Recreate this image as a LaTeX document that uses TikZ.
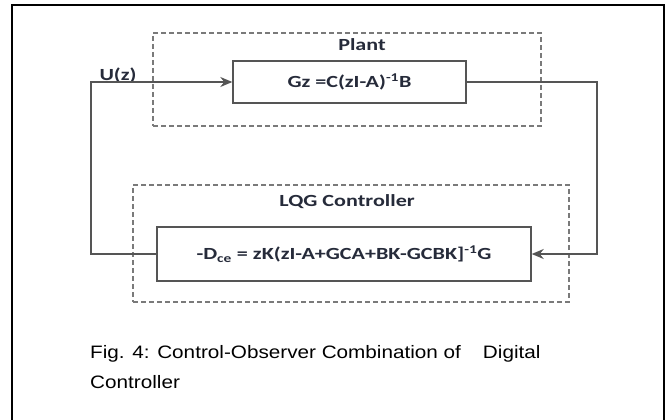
\documentclass[tikz,border=0pt]{standalone}
\usepackage{fontspec}
\setmainfont{Carlito}
\newfontfamily\diagfont[FakeStretch=1.3]{Carlito}
\newfontfamily\capfont[FakeStretch=1.15]{Liberation Sans}
\usetikzlibrary{positioning, arrows.meta}
\definecolor{inkc}{HTML}{262B3A}
\definecolor{linec}{HTML}{555555}
\definecolor{dashc}{HTML}{7A7A7A}

\begin{document}
\begin{tikzpicture}[x=1pt, y=-1pt,
    blk/.style={rectangle,
        draw=linec, % Box edge colour.
        line width=1.4pt,
        inner sep=0pt,
        text=inkc,
        font=\diagfont\bfseries\fontsize{17}{20}\selectfont},
    grp/.style={rectangle,
        draw=dashc, % Dashed group edge.
        dash pattern=on 5pt off 3pt,
        line width=1.3pt,
        inner sep=0pt},
    lbl/.style={text=inkc,
        inner sep=0pt,
        font=\diagfont\bfseries\fontsize{17}{20}\selectfont},
    capt/.style={inner sep=0pt,
        align=left,
        font=\capfont\fontsize{18}{30}\selectfont},
    wire/.style={draw=linec, line width=1.4pt},
    arrow/.style={wire, -{Stealth[length=12pt, width=10pt]}}]

        \useasboundingbox (0,0) rectangle (670,420);

        % Frame.
        \draw[line width=2.4pt] (12,430) -- (12,5) -- (664,5) -- (664,430);

        % Groups.
        \node[grp, minimum width=388pt, minimum height=93pt] (plant) at (347,79.5) {};
        \node[grp, minimum width=436pt, minimum height=117pt] (lqg) at (351,243.5) {};
        \node[lbl] (plantlbl) at (362,45) {Plant};
        \node[lbl] (lqglbl) at (347,202) {LQG Controller};

        % Blocks.
        \node[blk, minimum width=233pt, minimum height=42pt] (gz) at (349.5,82)
            {Gz =C(zI-A)\textsuperscript{-1}B};
        \node[blk, minimum width=374pt, minimum height=54pt] (dce) at (344,254)
            {-D\textsubscript{ce} = zK(zI-A+GCA+BK-GCBK]\textsuperscript{-1}G};

        % Corners of the loop.
        \coordinate (ul) at (91,0);
        \coordinate (ur) at (597,0);
        \node[lbl] (u) at (118,75) {U(z)};

        % Loop.
        \draw[arrow] (dce.west) -| (ul |- gz.west) -- (gz.west);
        \draw[arrow] (gz.east) -| (ur |- dce.east) -- (dce.east);

        % Caption (base is the last line).
        \node[capt, anchor=base west] (cap) at (90,388)
            {Fig. 4: Control-Observer Combination of\hspace{22pt}Digital\\Controller};
    \end{tikzpicture}
\end{document}
